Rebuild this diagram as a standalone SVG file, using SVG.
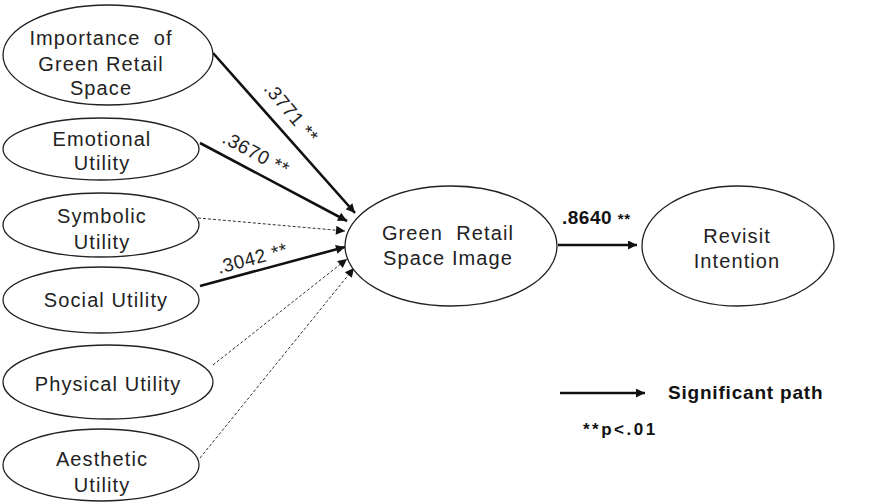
<svg xmlns="http://www.w3.org/2000/svg" width="887" height="504" viewBox="0 0 887 504">
<style>
.node ellipse{fill:#fff;stroke:#222;stroke-width:1.3}
.node text{font-family:"Liberation Sans",Arial,sans-serif;font-size:20px;fill:#222;text-anchor:middle;letter-spacing:1.1px}
.sig{stroke:#111;stroke-width:2.6;fill:none}
.ns{stroke:#333;stroke-width:1;stroke-dasharray:3 2;fill:none}
.lbl{font-family:"Liberation Sans",Arial,sans-serif;font-size:19px;fill:#222;letter-spacing:0.6px}
.bold{font-family:"Liberation Sans",Arial,sans-serif;font-weight:bold;fill:#111}
</style>
<defs>
<marker id="ah" viewBox="0 0 10 10" refX="10" refY="5" markerWidth="12" markerHeight="9" markerUnits="userSpaceOnUse" orient="auto"><path d="M0,0L10,5L0,10z" fill="#111"/></marker>
</defs>
<rect width="887" height="504" fill="#fff"/>
<g id="connectors">
<line class="sig" x1="213" y1="53" x2="355" y2="213" marker-end="url(#ah)"/>
<line class="sig" x1="200" y1="143" x2="347" y2="221" marker-end="url(#ah)"/>
<line class="ns" x1="198" y1="218" x2="345" y2="231" marker-end="url(#ah)"/>
<line class="sig" x1="200" y1="286" x2="345" y2="247" marker-end="url(#ah)"/>
<line class="ns" x1="213" y1="365" x2="347" y2="259" marker-end="url(#ah)"/>
<line class="ns" x1="200" y1="458" x2="354" y2="268" marker-end="url(#ah)"/>
<line class="sig" x1="558" y1="245" x2="637" y2="245" marker-end="url(#ah)"/>
<text class="lbl" transform="translate(263,89) rotate(50)" xml:space="preserve">.3771 **</text>
<text class="lbl" transform="translate(221,142) rotate(28)" xml:space="preserve">.3670 **</text>
<text class="lbl" transform="translate(219,274) rotate(-15)" xml:space="preserve">.3042 **</text>
<text class="bold" x="562" y="224" font-size="19" letter-spacing="0.5" xml:space="preserve">.8640 <tspan font-size="15">**</tspan></text>
</g>
<g id="n1" class="node"><ellipse cx="108" cy="55" rx="105" ry="50"/><text x="101" y="45" xml:space="preserve">Importance  of</text><text x="101" y="71">Green Retail</text><text x="101" y="95">Space</text></g>
<g id="n2" class="node"><ellipse cx="101" cy="149" rx="98" ry="31"/><text x="102" y="146">Emotional</text><text x="102" y="170">Utility</text></g>
<g id="n3" class="node"><ellipse cx="101" cy="225" rx="98" ry="32"/><text x="102" y="223">Symbolic</text><text x="102" y="249">Utility</text></g>
<g id="n4" class="node"><ellipse cx="101" cy="300" rx="98" ry="33"/><text x="106" y="307">Social Utility</text></g>
<g id="n5" class="node"><ellipse cx="108" cy="382" rx="105" ry="37"/><text x="108" y="391">Physical Utility</text></g>
<g id="n6" class="node"><ellipse cx="101" cy="465" rx="98" ry="36"/><text x="102" y="466">Aesthetic</text><text x="102" y="492">Utility</text></g>
<g id="n7" class="node"><ellipse cx="451" cy="246" rx="106" ry="60"/><text x="448" y="240" xml:space="preserve">Green  Retail</text><text x="448" y="265">Space Image</text></g>
<g id="n8" class="node"><ellipse cx="738" cy="246" rx="96" ry="60"/><text x="737" y="243">Revisit</text><text x="737" y="268">Intention</text></g>
<g id="legend">
<line class="sig" x1="560" y1="393" x2="645" y2="393" stroke-width="2" marker-end="url(#ah)"/>
<text class="bold" x="668" y="399" font-size="19" letter-spacing="0.8">Significant path</text>
<text class="bold" x="583" y="435" font-size="17" letter-spacing="2.5">**p&lt;.01</text>
</g>
</svg>
